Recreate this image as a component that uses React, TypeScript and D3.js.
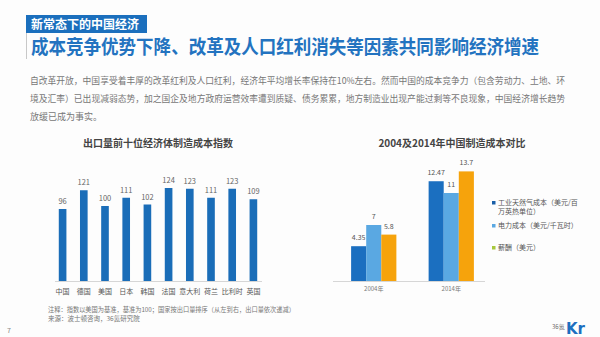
import React from "react";
import * as d3 from "d3";

const countries = ["中国", "德国", "美国", "日本", "韩国", "法国", "意大利", "荷兰", "比利时", "英国"];
const costIndex = [96, 121, 100, 111, 102, 124, 123, 111, 123, 109];

const years = ["2004年", "2014年"];
const seriesNames = ["工业天然气成本（美元/百万英热单位）", "电力成本（美元/千瓦时）", "薪酬（美元）"];
const gasCost = [4.35, 12.47];
const powerCost = [7, 11];
const wageCost = [5.8, 13.7];
const valueLabels = [["4.35", "12.47"], ["7", "11"], ["5.8", "13.7"]];

const paragraph = [
  "自改革开放，中国享受着丰厚的改革红利及人口红利，经济年平均增长率保持在10%左右。然而中国的成本竞争力（包含劳动力、土地、环",
  "境及汇率）已出现减弱态势，加之国企及地方政府运营效率遭到质疑、债务累累，地方制造业出现产能过剩等不良现象，中国经济增长趋势",
  "放缓已成为事实。",
];

const FONT = "'Noto Sans CJK SC', 'Noto Sans', sans-serif";
const BLUE = "#1b6fbd";
const seriesColors = ["#1b6fc0", "#5aa8e2", "#f6a30c"];
const legendColors = ["#1a5fa8", "#5aa8e2", "#a8c83c"];

export default function App() {
  const left = d3.scaleBand<string>().domain(countries).range([52, 264]).paddingInner(0.64).paddingOuter(0.32);
  const yL = d3.scaleLinear().domain([0, 140]).range([281, 176]);

  const x0 = d3.scaleBand<string>().domain(years).range([336, 489]).paddingInner(0.416).paddingOuter(0.195);
  const x1 = d3.scaleBand<number>().domain([0, 1, 2]).range([0, x0.bandwidth()]);
  const yR = d3.scaleLinear().domain([0, 16]).range([281, 153]);
  const seriesData = [gasCost, powerCost, wageCost];

  return (
    <svg width={600} height={337} style={{ position: "absolute", left: 0, top: 0, background: "#fff" }} fontFamily={FONT}>
      <rect x={0} y={0} width={600} height={337} fill="#fdfdfd" />
      {/* header */}
      <rect x={26} y={15} width={121} height={18} fill={BLUE} />
      <text x={31} y={28.5} fontSize={12} fontWeight="bold" fill="#fff">新常态下的中国经济</text>
      <line x1={26.5} y1={33} x2={26.5} y2={59} stroke="#c8c8c8" strokeWidth={1} />
      <text x={31} y={54} fontSize={19.5} fontWeight="bold" fill="#2373c0" textLength={508} lengthAdjust="spacingAndGlyphs">
        成本竞争优势下降、改革及人口红利消失等因素共同影响经济增速
      </text>
      {/* paragraph */}
      <text x={30} y={84} fontSize={9} fill="#777" textLength={535} lengthAdjust="spacingAndGlyphs">{paragraph[0]}</text>
      <text x={30} y={102} fontSize={9} fill="#777" textLength={535} lengthAdjust="spacingAndGlyphs">{paragraph[1]}</text>
      <text x={30} y={120} fontSize={9} fill="#777">{paragraph[2]}</text>

      {/* left chart */}
      <text x={158} y={147} fontSize={10} fontWeight="bold" fill="#444" textAnchor="middle">出口量前十位经济体制造成本指数</text>
      {countries.map((c, i) => (
        <g key={c}>
          <rect x={left(c)} y={yL(costIndex[i])} width={left.bandwidth()} height={yL(0) - yL(costIndex[i])} fill="#1a6db8" />
          <text x={left(c)! + left.bandwidth() / 2} y={yL(costIndex[i]) - 5} fontSize={7.5} fill="#666" textAnchor="middle">{costIndex[i]}</text>
          <text x={left(c)! + left.bandwidth() / 2} y={294} fontSize={7} fill="#555" textAnchor="middle">{c}</text>
        </g>
      ))}
      <line x1={55} x2={262} y1={281.5} y2={281.5} stroke="#d6d6d6" strokeWidth={1} />

      {/* right chart */}
      <text x={452} y={147} fontSize={10} fontWeight="bold" fill="#444" textAnchor="middle">2004及2014年中国制造成本对比</text>
      {years.map((yr, gi) => (
        <g key={yr}>
          {seriesData.map((arr, si) => {
            const bx = x0(yr)! + x1(si)!;
            return (
              <g key={si}>
                <rect x={bx} y={yR(arr[gi])} width={x1.bandwidth()} height={yR(0) - yR(arr[gi])} fill={seriesColors[si]} />
                <text x={bx + x1.bandwidth() / 2} y={yR(arr[gi]) - 6} fontSize={7} fill="#555" textAnchor="middle">{valueLabels[si][gi]}</text>
              </g>
            );
          })}
          <text x={x0(yr)! + x0.bandwidth() / 2} y={291} fontSize={6} fill="#777" textAnchor="middle">{yr}</text>
        </g>
      ))}
      <line x1={333} x2={485} y1={281.5} y2={281.5} stroke="#d6d6d6" strokeWidth={1} />
      {/* legend */}
      <rect x={492} y={201} width={3.5} height={3.5} fill={legendColors[0]} />
      <text x={498} y={205} fontSize={7} fill="#555">工业天然气成本（美元/百</text>
      <text x={498} y={214} fontSize={7} fill="#555">万英热单位）</text>
      <rect x={492} y={224} width={3.5} height={3.5} fill={legendColors[1]} />
      <text x={498} y={228} fontSize={7} fill="#555">{seriesNames[1]}</text>
      <rect x={492} y={246} width={3.5} height={3.5} fill={legendColors[2]} />
      <text x={498} y={250} fontSize={7} fill="#555">{seriesNames[2]}</text>

      {/* footnotes */}
      <text x={48} y={312} fontSize={6.5} fill="#777" textLength={247} lengthAdjust="spacingAndGlyphs">注释：指数以美国为基准，基准为100；国家按出口量排序（从左到右，出口量依次递减）</text>
      <text x={48} y={321} fontSize={6.5} fill="#777">来源：波士顿咨询，36氪研究院</text>
      <text x={7} y={333} fontSize={7} fill="#888">7</text>

      {/* logo */}
      <text x={552} y={329} fontSize={6} fill="#666">36氪</text>
      <text x={566} y={334} fontSize={15} fontWeight="bold" fill="#1d6fc0" fontFamily="'DejaVu Sans', sans-serif">Kr</text>
    </svg>
  );
}
